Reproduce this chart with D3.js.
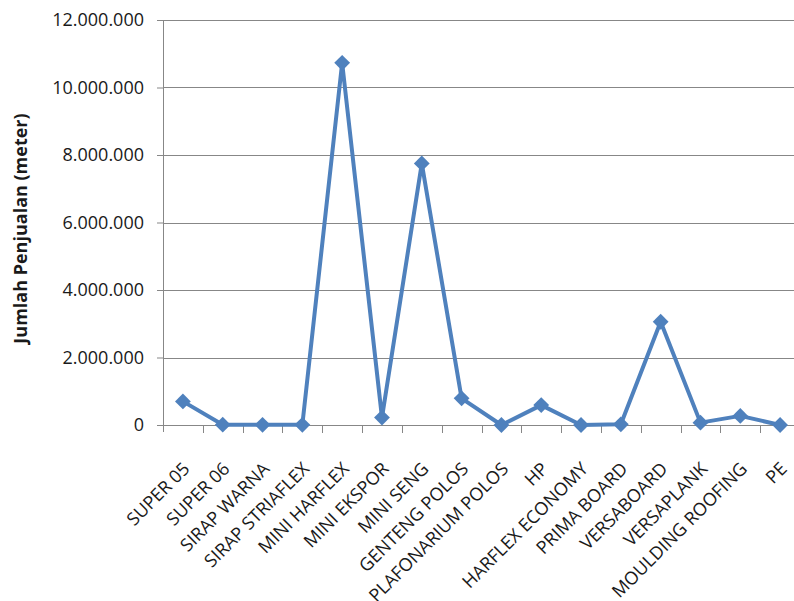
<!DOCTYPE html>
<html>
<head>
<meta charset="utf-8">
<script src="https://cdn.jsdelivr.net/npm/d3@7"></script>
<style>
    body { margin: 0; background: #fff; }
    svg { display: block; font-family: "Open Sans", sans-serif; }
</style>
</head>
<body>
<svg id="chart"></svg>
<script>
// product categories (x axis)
const categories = [
    "SUPER 05", "SUPER 06", "SIRAP WARNA", "SIRAP STRIAFLEX", "MINI HARFLEX",
    "MINI EKSPOR", "MINI SENG", "GENTENG POLOS", "PLAFONARIUM POLOS", "HP",
    "HARFLEX ECONOMY", "PRIMA BOARD", "VERSABOARD", "VERSAPLANK",
    "MOULDING ROOFING", "PE"
];

// sales volume (meter)
const sales = [
    700000, 10000, 5000, 5000, 10730000,
    220000, 7750000, 790000, 0, 590000,
    0, 20000, 3060000, 70000,
    270000, 0
];

const yTicks = [0, 2000000, 4000000, 6000000, 8000000, 10000000, 12000000];
const yTitle = "Jumlah Penjualan (meter)";

const idLocale = d3.formatLocale({decimal: ",", thousands: ".", grouping: [3], currency: ["Rp", ""]});

class SalesLineChart {

    constructor(_config) {
        this.config = {
            parentElement: _config.parentElement,
            containerWidth: 794,
            containerHeight: 601,
            margin: {top: 20, right: -6, bottom: 176, left: 163}
        }
        this.initVis();
    }

    initVis() {
        let vis = this;

        vis.width = vis.config.containerWidth - vis.config.margin.left - vis.config.margin.right;
        vis.height = vis.config.containerHeight - vis.config.margin.top - vis.config.margin.bottom;

        vis.xScale = d3.scaleBand()
            .domain(categories)
            .range([0, vis.width]);

        vis.yScale = d3.scaleLinear()
            .domain([0, d3.max(yTicks)])
            .range([vis.height, 0]);

        vis.svg = d3.select(vis.config.parentElement)
            .attr('width', vis.config.containerWidth)
            .attr('height', vis.config.containerHeight);

        vis.chart = vis.svg.append('g')
            .attr('transform', `translate(${vis.config.margin.left},${vis.config.margin.top})`);

        vis.renderVis();
    }

    renderVis() {
        let vis = this;
        const grey = '#878787';

        // horizontal gridlines
        vis.chart.append('g')
            .selectAll('line')
            .data(yTicks.filter(d => d > 0))
            .join('line')
            .attr('x1', 0)
            .attr('x2', vis.width)
            .attr('y1', d => Math.round(vis.yScale(d)) + 0.5)
            .attr('y2', d => Math.round(vis.yScale(d)) + 0.5)
            .attr('stroke', grey)
            .attr('stroke-width', 1);

        // y axis
        vis.chart.append('g')
            .call(d3.axisLeft(vis.yScale)
                .tickValues(yTicks)
                .tickSize(6)
                .tickPadding(13)
                .tickFormat(idLocale.format(',d')))
            .call(g => g.selectAll('line, path').attr('stroke', grey))
            .call(g => g.select('.domain').attr('d', `M0.5,0V${vis.height + 7}`))
            .call(g => g.selectAll('text')
                .attr('fill', '#1a1a1a')
                .style('font-size', '18px')
                .style('font-family', '"Open Sans", sans-serif'));

        // x axis line + boundary ticks
        const xg = vis.chart.append('g')
            .attr('transform', `translate(0,${vis.height})`);
        xg.append('line')
            .attr('x1', 0).attr('x2', vis.width)
            .attr('y1', 0.5).attr('y2', 0.5)
            .attr('stroke', grey);
        xg.selectAll('.xtick')
            .data(categories.slice(1))
            .join('line')
            .attr('class', 'xtick')
            .attr('x1', d => Math.round(vis.xScale(d)) + 0.5)
            .attr('x2', d => Math.round(vis.xScale(d)) + 0.5)
            .attr('y1', 0).attr('y2', 8)
            .attr('stroke', grey);

        // rotated category labels
        xg.selectAll('.xlabel')
            .data(categories)
            .join('text')
            .attr('class', 'xlabel')
            .attr('text-anchor', 'end')
            .attr('transform', d => `translate(${vis.xScale(d) + vis.xScale.bandwidth() / 2 + 8},45) rotate(-45)`)
            .attr('fill', '#1a1a1a')
            .style('font-size', '18px')
            .text(d => d);

        // y axis title
        vis.svg.append('text')
            .attr('transform', `translate(27,${vis.config.margin.top + vis.height / 2 + 6}) rotate(-90)`)
            .attr('text-anchor', 'middle')
            .attr('font-weight', 'bold')
            .attr('fill', '#1a1a1a')
            .style('font-size', '18px')
            .text(yTitle);

        const pts = categories.map((c, i) => ({c: c, v: sales[i]}));

        const line = d3.line()
            .x(d => vis.xScale(d.c) + vis.xScale.bandwidth() / 2)
            .y(d => vis.yScale(d.v));

        vis.chart.append('path')
            .datum(pts)
            .attr('d', line)
            .attr('fill', 'none')
            .attr('stroke', '#4f81bd')
            .attr('stroke-width', 4)
            .attr('stroke-linejoin', 'round');

        vis.chart.selectAll('.marker')
            .data(pts)
            .join('path')
            .attr('class', 'marker')
            .attr('d', d3.symbol().type(d3.symbolSquare).size(125))
            .attr('transform', d => `translate(${vis.xScale(d.c) + vis.xScale.bandwidth() / 2},${vis.yScale(d.v)}) rotate(45)`)
            .attr('fill', '#4f81bd');
    }
}

new SalesLineChart({parentElement: '#chart'});
</script>
</body>
</html>
